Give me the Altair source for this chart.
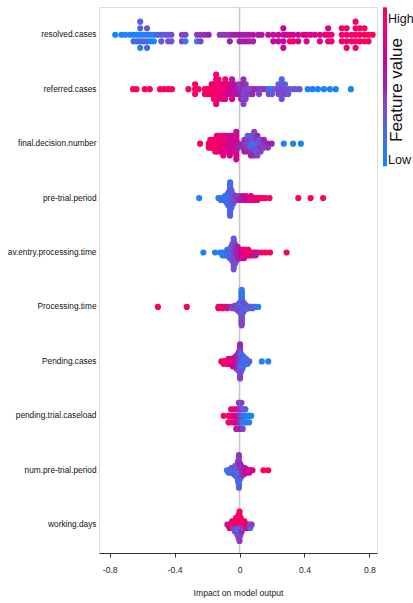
import numpy as np
import pandas as pd
import altair as alt

# Feature order, top to bottom
features = [
    "resolved.cases", "referred.cases", "final.decision.number", "pre-trial.period",
    "av.entry.processing.time", "Processing.time", "Pending.cases",
    "pending.trial.caseload", "num.pre-trial.period", "working.days",
]

# Each entry: (SHAP value, [normalised feature value of every sample at that SHAP value])
resolved_cases = [
    (-0.766, [0.03]), (-0.728, [0.05]), (-0.703, [0.04]), (-0.674, [0.05]),
    (-0.653, [0.05, 0.25]), (-0.632, [0.04, 0.22]),
    (-0.612, [0.05, 0.25, 0.25, 0.05, 0.25]),
    (-0.591, [0.06, 0.25]), (-0.570, [0.1, 0.25, 0.3, 0.22]), (-0.549, [0.08, 0.05]),
    (-0.528, [0.12, 0.03]), (-0.505, [0.25]), (-0.482, [0.28, 0.3]), (-0.46, [0.3]),
    (-0.44, [0.3, 0.35]), (-0.42, [0.38, 0.3]),
    (-0.355, [0.4, 0.42]), (-0.333, [0.4, 0.1]),
    (-0.262, [0.45, 0.1]), (-0.240, [0.45, 0.4]), (-0.215, [0.48]), (-0.19, [0.5]),
    (-0.122, [0.45]), (-0.10, [0.42]), (-0.08, [0.45]), (-0.06, [0.45, 0.5]),
    (-0.04, [0.55]), (-0.02, [0.52]),
    (0.0, [0.55, 0.5]), (0.02, [0.5, 0.55]), (0.04, [0.5, 0.55]), (0.06, [0.55, 0.52]),
    (0.084, [0.6, 0.55]), (0.115, [0.55]), (0.136, [0.6]), (0.177, [0.62]),
    (0.208, [0.6, 0.65]), (0.239, [0.65, 0.62]), (0.27, [0.6, 0.65, 0.7, 0.62]),
    (0.29, [0.65]), (0.31, [0.68, 0.95]), (0.331, [0.7, 0.95]),
    (0.362, [0.7, 0.72]), (0.393, [0.72]), (0.413, [0.75, 0.72]), (0.438, [0.72]),
    (0.465, [0.75]), (0.495, [0.78, 0.75]), (0.526, [0.8]), (0.546, [0.8, 0.85, 0.82]),
    (0.567, [0.85, 0.8]),
    (0.63, [0.9, 0.88, 0.92]), (0.66, [0.92, 0.9, 0.88, 0.95]), (0.69, [0.9, 0.92]),
    (0.715, [0.95, 0.9, 0.92, 0.88, 0.93]), (0.742, [0.95, 0.97, 0.92]),
    (0.77, [0.95, 0.9, 0.97]), (0.795, [0.98, 0.95]), (0.82, [0.97]),
]

referred_cases = [
    (-0.656, [0.95]), (-0.635, [0.95]), (-0.584, [0.95]), (-0.553, [0.95]),
    (-0.49, [0.95]), (-0.465, [0.95]), (-0.44, [0.95]), (-0.416, [0.95]),
    (-0.315, [0.95]), (-0.274, [0.95, 0.9, 0.95]), (-0.252, [0.9]), (-0.214, [0.95, 0.9]),
    (-0.2, [0.95, 0.9]), (-0.186, [0.9, 0.95]), (-0.172, [0.95, 0.85, 0.9]),
    (-0.158, [0.9, 0.95, 0.85, 0.9]),
    (-0.144, [0.95, 0.9, 0.85, 0.95, 0.9, 0.8, 0.9]),
    (-0.13, [0.9, 0.85, 0.95, 0.8, 0.9]), (-0.116, [0.85, 0.9, 0.8]),
    (-0.102, [0.8, 0.85, 0.75, 0.9]), (-0.088, [0.8, 0.7, 0.85, 0.75, 0.9]),
    (-0.074, [0.75, 0.7, 0.8]), (-0.06, [0.7, 0.65, 0.75]),
    (-0.046, [0.65, 0.7, 0.6, 0.75, 0.55]), (-0.032, [0.6, 0.55, 0.65]),
    (-0.018, [0.55, 0.6]), (-0.004, [0.5, 0.55, 0.45]), (0.01, [0.45, 0.5, 0.4, 0.55]),
    (0.024, [0.45, 0.4, 0.5, 0.35, 0.45, 0.4]), (0.038, [0.4, 0.35, 0.45, 0.4]),
    (0.052, [0.4, 0.45]), (0.066, [0.35, 0.4]),
    (0.08, [0.45, 0.5]), (0.1, [0.5]), (0.12, [0.45, 0.4]), (0.14, [0.4]), (0.16, [0.45]),
    (0.18, [0.15, 0.4]), (0.2, [0.1, 0.3]), (0.22, [0.35]), (0.24, [0.35, 0.4, 0.3]),
    (0.26, [0.4, 0.35, 0.3, 0.35, 0.25]), (0.28, [0.35, 0.4, 0.3]), (0.3, [0.35, 0.3]),
    (0.32, [0.3]), (0.345, [0.35]), (0.37, [0.3]),
    (0.42, [0.05]), (0.45, [0.05]), (0.483, [0.05]), (0.52, [0.05]), (0.557, [0.05]),
    (0.593, [0.05]), (0.686, [0.05]),
]

final_decision_number = [
    (-0.243, [0.95]), (-0.19, [0.95, 0.9]), (-0.18, [0.9, 0.95, 0.85]), (-0.17, [0.95, 0.9]),
    (-0.16, [0.9, 0.85, 0.95]), (-0.15, [0.95, 0.9, 0.85, 0.9]),
    (-0.14, [0.9, 0.95, 0.8, 0.9, 0.85]), (-0.13, [0.85, 0.9, 0.95]),
    (-0.12, [0.9, 0.85, 0.8, 0.95, 0.9]), (-0.11, [0.85, 0.9, 0.75, 0.8]),
    (-0.10, [0.8, 0.85, 0.9, 0.7, 0.85, 0.8]), (-0.09, [0.85, 0.75, 0.8]),
    (-0.08, [0.75, 0.8, 0.85, 0.7, 0.8]), (-0.07, [0.8, 0.7, 0.75, 0.85]),
    (-0.06, [0.7, 0.75, 0.8, 0.65, 0.75, 0.7]), (-0.05, [0.75, 0.65, 0.7]),
    (-0.04, [0.7, 0.8, 0.6, 0.75, 0.65]), (-0.03, [0.6, 0.7, 0.75]),
    (-0.02, [0.65, 0.55, 0.7, 0.6, 0.75, 0.8, 0.6, 0.7]), (-0.01, [0.6, 0.5]),
    (0.02, [0.5, 0.45]), (0.03, [0.45, 0.5, 0.4, 0.55]), (0.04, [0.4, 0.45, 0.5]),
    (0.05, [0.35, 0.45, 0.4, 0.5, 0.3]), (0.06, [0.3, 0.4, 0.45]),
    (0.07, [0.2, 0.35, 0.4, 0.45, 0.3, 0.5]), (0.08, [0.1, 0.3, 0.4]),
    (0.09, [0.05, 0.2, 0.35, 0.45, 0.25, 0.5, 0.4]), (0.10, [0.1, 0.3, 0.4, 0.2]),
    (0.11, [0.15, 0.35, 0.45, 0.3, 0.5, 0.4]), (0.12, [0.25, 0.4, 0.35]),
    (0.13, [0.35, 0.45, 0.3, 0.4]), (0.14, [0.4, 0.45]), (0.15, [0.45, 0.4, 0.5]),
    (0.16, [0.45]), (0.175, [0.5, 0.45]), (0.198, [0.5]),
    (0.273, [0.05]), (0.33, [0.05]), (0.378, [0.05]),
]

pre_trial_period = [
    (-0.249, [0.05]), (-0.13, [0.1]), (-0.115, [0.1, 0.15]), (-0.10, [0.05, 0.15]),
    (-0.09, [0.1, 0.2, 0.15]), (-0.082, [0.15, 0.1, 0.2, 0.25]),
    (-0.074, [0.1, 0.2, 0.15, 0.25, 0.1, 0.3]),
    (-0.066, [0.15, 0.2, 0.1, 0.25, 0.2, 0.15, 0.3, 0.2]),
    (-0.058, [0.15, 0.2, 0.1, 0.25, 0.2, 0.15, 0.3, 0.2, 0.25, 0.15, 0.2, 0.1,
              0.25, 0.2, 0.15, 0.3, 0.2, 0.25]),
    (-0.05, [0.2, 0.25, 0.15, 0.3, 0.2, 0.25, 0.35, 0.2, 0.3, 0.25]),
    (-0.042, [0.25, 0.3, 0.2, 0.35, 0.3, 0.25]), (-0.034, [0.3, 0.35, 0.25, 0.4]),
    (-0.026, [0.3, 0.35, 0.4]), (-0.018, [0.35, 0.4, 0.45]), (-0.01, [0.4, 0.45]),
    (0.0, [0.45, 0.5, 0.4]), (0.01, [0.5, 0.55]), (0.02, [0.55, 0.5, 0.6]),
    (0.03, [0.6, 0.55]), (0.04, [0.65, 0.6, 0.7]), (0.05, [0.7, 0.65]),
    (0.06, [0.7, 0.75]), (0.07, [0.75, 0.8, 0.7]), (0.08, [0.8]), (0.09, [0.85, 0.75]),
    (0.10, [0.85]), (0.11, [0.9, 0.8]), (0.125, [0.9]), (0.14, [0.95]), (0.16, [0.9]),
    (0.185, [0.95]), (0.362, [0.95]), (0.438, [0.95]), (0.515, [0.95]),
]

av_entry_processing_time = [
    (-0.223, [0.05]), (-0.151, [0.05]), (-0.12, [0.05]), (-0.105, [0.1, 0.05]),
    (-0.092, [0.1, 0.15]), (-0.084, [0.15, 0.1]), (-0.076, [0.15, 0.2, 0.1]),
    (-0.068, [0.2, 0.15, 0.25]), (-0.06, [0.2, 0.25, 0.15, 0.3]),
    (-0.052, [0.25, 0.2, 0.3, 0.35, 0.25]),
    (-0.044, [0.25, 0.3, 0.35, 0.2, 0.3, 0.4, 0.25]),
    (-0.036, [0.3, 0.35, 0.4, 0.25, 0.3, 0.4, 0.35, 0.3, 0.4, 0.35, 0.3, 0.35]),
    (-0.028, [0.35, 0.4, 0.45, 0.3, 0.35, 0.45, 0.4, 0.35]),
    (-0.02, [0.4, 0.45, 0.5, 0.4, 0.45, 0.35]), (-0.012, [0.45, 0.5, 0.55, 0.45, 0.5]),
    (-0.004, [0.5, 0.55, 0.45, 0.6]), (0.004, [0.55, 0.6, 0.65, 0.55]),
    (0.012, [0.6, 0.65, 0.7, 0.6]), (0.02, [0.65, 0.7, 0.75]), (0.028, [0.7, 0.75, 0.8, 0.7]),
    (0.036, [0.75, 0.8, 0.85]), (0.044, [0.8, 0.85, 0.75]), (0.054, [0.85, 0.8, 0.9]),
    (0.064, [0.9, 0.85]), (0.074, [0.85, 0.9]), (0.086, [0.9, 0.6]), (0.1, [0.95, 0.55]),
    (0.114, [0.55]), (0.136, [0.95]), (0.16, [0.9]), (0.188, [0.95]), (0.29, [0.95]),
]

processing_time = [
    (-0.503, [0.95]), (-0.325, [0.95]),
    (-0.13, [0.95, 0.9]), (-0.118, [0.85]), (-0.104, [0.9, 0.8]), (-0.09, [0.95]),
    (-0.076, [0.6, 0.9]), (-0.06, [0.5]), (-0.045, [0.45, 0.4]), (-0.03, [0.4, 0.35, 0.45]),
    (-0.016, [0.35, 0.4, 0.3, 0.45]), (-0.008, [0.3, 0.35, 0.4, 0.25, 0.45, 0.3]),
    (-0.001, [0.3, 0.25, 0.35, 0.4, 0.2, 0.3, 0.35, 0.45]),
    (0.006, [0.25, 0.3, 0.2, 0.35, 0.3, 0.4, 0.25, 0.3, 0.35, 0.2]),
    (0.013, [0.3, 0.35, 0.25, 0.3, 0.2, 0.35, 0.25, 0.4, 0.15, 0.3, 0.2, 0.35, 0.1, 0.4,
             0.25, 0.3, 0.15, 0.35, 0.1, 0.4, 0.2, 0.35, 0.1, 0.4, 0.15, 0.45, 0.1, 0.35,
             0.1, 0.4]),
    (0.02, [0.3, 0.25, 0.35, 0.2, 0.3, 0.4, 0.15, 0.35, 0.25, 0.3]),
    (0.027, [0.25, 0.3, 0.2, 0.35, 0.1, 0.3, 0.4]), (0.034, [0.3, 0.2, 0.35, 0.25, 0.3]),
    (0.042, [0.3, 0.25, 0.35]), (0.05, [0.3, 0.2]), (0.06, [0.25, 0.3]), (0.07, [0.3]),
    (0.08, [0.35, 0.25]), (0.095, [0.2]), (0.115, [0.05]),
]

pending_cases = [
    (-0.112, [0.95]), (-0.098, [0.95, 0.9]), (-0.088, [0.9]), (-0.078, [0.95, 0.85]),
    (-0.068, [0.9, 0.95, 0.85]), (-0.058, [0.85, 0.9]), (-0.05, [0.9, 0.8, 0.85]),
    (-0.042, [0.8, 0.75, 0.85, 0.7]), (-0.034, [0.75, 0.8, 0.65, 0.7]),
    (-0.026, [0.7, 0.6, 0.75, 0.65, 0.55]), (-0.018, [0.65, 0.55, 0.6, 0.7, 0.5, 0.6]),
    (-0.01, [0.55, 0.6, 0.45, 0.5, 0.65, 0.4, 0.55]),
    (-0.003, [0.5, 0.45, 0.55, 0.4, 0.5, 0.6, 0.45, 0.35, 0.55]),
    (0.003, [0.4, 0.35, 0.45, 0.3, 0.5, 0.35, 0.4, 0.25, 0.45, 0.3, 0.4, 0.35, 0.45,
             0.4, 0.5]),
    (0.01, [0.35, 0.3, 0.4, 0.25, 0.35, 0.3, 0.2, 0.4]),
    (0.017, [0.3, 0.2, 0.35, 0.1, 0.25, 0.3]), (0.024, [0.2, 0.1, 0.3, 0.15, 0.25]),
    (0.032, [0.15, 0.25, 0.1]), (0.04, [0.2, 0.3, 0.1]), (0.05, [0.25, 0.1]), (0.06, [0.3]),
    (0.137, [0.05]), (0.177, [0.05]),
]

pending_trial_caseload = [
    (-0.098, [0.95]), (-0.068, [0.9, 0.85]), (-0.06, [0.95]), (-0.052, [0.85, 0.9, 0.8]),
    (-0.044, [0.8]), (-0.036, [0.85, 0.75, 0.9]), (-0.028, [0.7, 0.8]),
    (-0.02, [0.75, 0.6, 0.7, 0.65]), (-0.012, [0.6, 0.7, 0.55]),
    (-0.004, [0.55, 0.5, 0.6, 0.45, 0.5]), (0.004, [0.45, 0.5, 0.4, 0.55, 0.35]),
    (0.012, [0.4, 0.3, 0.45, 0.5, 0.4]), (0.02, [0.3, 0.2, 0.35, 0.4]),
    (0.028, [0.2, 0.1, 0.3]), (0.036, [0.1, 0.15, 0.25]), (0.044, [0.1, 0.05]),
    (0.052, [0.08]), (0.06, [0.05, 0.1]), (0.072, [0.05]),
]

num_pre_trial_period = [
    (-0.078, [0.1]), (-0.068, [0.05, 0.2]), (-0.058, [0.1, 0.3]), (-0.05, [0.2, 0.1, 0.35]),
    (-0.042, [0.15, 0.3, 0.1]), (-0.034, [0.25, 0.1, 0.35, 0.2]),
    (-0.026, [0.3, 0.15, 0.4, 0.2, 0.35]), (-0.018, [0.2, 0.35, 0.1, 0.4, 0.25, 0.3]),
    (-0.01, [0.25, 0.1, 0.35, 0.15, 0.4, 0.2, 0.3, 0.1, 0.45, 0.2]),
    (-0.004, [0.3, 0.1, 0.4, 0.2, 0.35, 0.15, 0.4, 0.1, 0.45, 0.25, 0.35, 0.15, 0.4,
              0.2, 0.45, 0.3]),
    (0.003, [0.35, 0.2, 0.4, 0.1, 0.45, 0.3, 0.5, 0.25]),
    (0.01, [0.4, 0.3, 0.45, 0.2, 0.5, 0.35]), (0.018, [0.45, 0.5, 0.35, 0.55]),
    (0.026, [0.5, 0.4, 0.6, 0.45]), (0.034, [0.55, 0.6, 0.5]), (0.042, [0.6, 0.7]),
    (0.05, [0.7, 0.65]), (0.06, [0.8, 0.6]), (0.07, [0.9]), (0.08, [0.75]),
    (0.147, [0.95]), (0.177, [0.95]),
]

working_days = [
    (-0.075, [0.5]), (-0.062, [0.9, 0.95]), (-0.054, [0.95, 0.6]),
    (-0.046, [0.9, 0.95, 0.5]), (-0.038, [0.95, 0.4, 0.9]), (-0.03, [0.9, 0.45, 0.95, 0.35]),
    (-0.022, [0.95, 0.3, 0.9, 0.4, 0.95]), (-0.014, [0.9, 0.35, 0.95, 0.2, 0.9, 0.45]),
    (-0.006, [0.95, 0.4, 0.9, 0.1, 0.95, 0.3, 0.9, 0.45]),
    (0.0, [0.95, 0.1, 0.9, 0.35, 0.95, 0.2, 0.9, 0.4, 0.95, 0.45]),
    (0.007, [0.9, 0.3, 0.95, 0.15, 0.9, 0.4]), (0.014, [0.95, 0.35, 0.9, 0.5]),
    (0.022, [0.9, 0.4, 0.95]), (0.03, [0.95, 0.3, 0.85]), (0.038, [0.9, 0.45]),
    (0.046, [0.95, 0.8]), (0.056, [0.95]), (0.066, [0.35, 0.2]), (0.075, [0.4]),
]

feature_data = [
    resolved_cases, referred_cases, final_decision_number, pre_trial_period,
    av_entry_processing_time, processing_time, pending_cases,
    pending_trial_caseload, num_pre_trial_period, working_days,
]

x_ticks = [-0.8, -0.6, -0.4, -0.2, 0, 0.2, 0.4, 0.6, 0.8]

# Blue -> purple -> red colour map (LCh ramp with a darker middle)
cmap_stops = [0, 0.25, 0.5, 0.75, 1]
cmap_colors = ["#008bfb", "#4b63e3", "#9b24ad", "#e00086", "#ff0052"]


def swarm_offsets(values, nbins=100, row_height=0.4):
    """Beeswarm layout: quantise along x, then stack points of a bin alternately."""
    v = np.asarray(values, dtype=float)
    q = np.round(nbins * (v - v.min()) / (v.max() - v.min() + 1e-8))
    order = np.argsort(q, kind="stable")
    ys = np.zeros(len(v))
    layer, last = 0, None
    for i in order:
        if q[i] != last:
            layer = 0
        ys[i] = np.ceil(layer / 2) * (1 if layer % 2 else -1)
        layer += 1
        last = q[i]
    return ys * 0.9 * row_height / (ys.max() + 1)


rows = []
for r, (name, groups) in enumerate(zip(features, feature_data)):
    shap_vals, colors = [], []
    for val, cols in groups:
        for c in cols:
            shap_vals.append(val)
            colors.append(c)
    offs = swarm_offsets(shap_vals)
    for s, c, o in zip(shap_vals, colors, offs):
        rows.append({"feature": name, "shap": s, "value": c, "ypos": r + o})
df = pd.DataFrame(rows)

font = "Liberation Sans"
label_expr = "[" + ",".join(f"'{f}'" for f in features) + "][datum.value]"

x_scale = alt.Scale(domain=[-0.866, 0.847], nice=False, zero=False)
y_scale = alt.Scale(domain=[-0.51, 9.52], reverse=True, nice=False, zero=False)

zero_line = alt.Chart(pd.DataFrame({"z": [0]})).mark_rule(
    color="#c8c8c8", strokeWidth=1.6
).encode(x=alt.X("z:Q", scale=x_scale))

dots = alt.Chart(df).mark_circle(size=38, opacity=1).encode(
    x=alt.X(
        "shap:Q", scale=x_scale,
        axis=alt.Axis(
            values=x_ticks, labelExpr="'' + datum.value", title="Impact on model output",
            grid=False, domainColor="#333333", tickColor="#333333", tickSize=4,
            labelFont=font, labelFontSize=8.6, labelColor="#222222", labelPadding=8,
            titleFont=font, titleFontSize=8.6, titleFontWeight="normal",
            titleColor="#222222", titlePadding=15,
        ),
    ),
    y=alt.Y(
        "ypos:Q", scale=y_scale,
        axis=alt.Axis(
            values=list(range(len(features))), labelExpr=label_expr, title=None,
            grid=False, domain=False, ticks=False, labelFont=font,
            labelFontSize=8.3, labelColor="#111111", labelPadding=3,
        ),
    ),
    color=alt.Color(
        "value:Q",
        scale=alt.Scale(domain=cmap_stops, range=cmap_colors, interpolate="hcl"),
        title=None,
        legend=alt.Legend(
            orient="none", legendX=284, legendY=0.3, direction="vertical",
            gradientLength=159, gradientThickness=4, gradientStrokeWidth=0,
            values=[0, 1], labelExpr="''", padding=0,
        ),
    ),
)

bar_labels = pd.DataFrame({"t": ["High", "Low"], "ty": [12, 153]})
bar_text = alt.Chart(bar_labels).mark_text(
    align="left", baseline="middle", font=font, fontSize=12.5, color="#111111"
).encode(x=alt.value(289), y=alt.Y("ty:Q", scale=None), text="t:N")

bar_title = alt.Chart(pd.DataFrame({"t": ["Feature value"]})).mark_text(
    align="center", baseline="middle", angle=270, font=font,
    fontSize=17, color="#111111"
).encode(x=alt.value(298), y=alt.value(83), text="t:N")

chart = alt.layer(zero_line, dots, bar_text, bar_title).properties(
    width=278, height=546,
    autosize=alt.AutoSizeParams(type="none"),
    padding={"left": 99, "top": 7, "right": 36, "bottom": 50},
).configure_view(stroke=None).configure(background="white")

chart.save("out.html", embed_options={"renderer": "svg", "actions": False})
